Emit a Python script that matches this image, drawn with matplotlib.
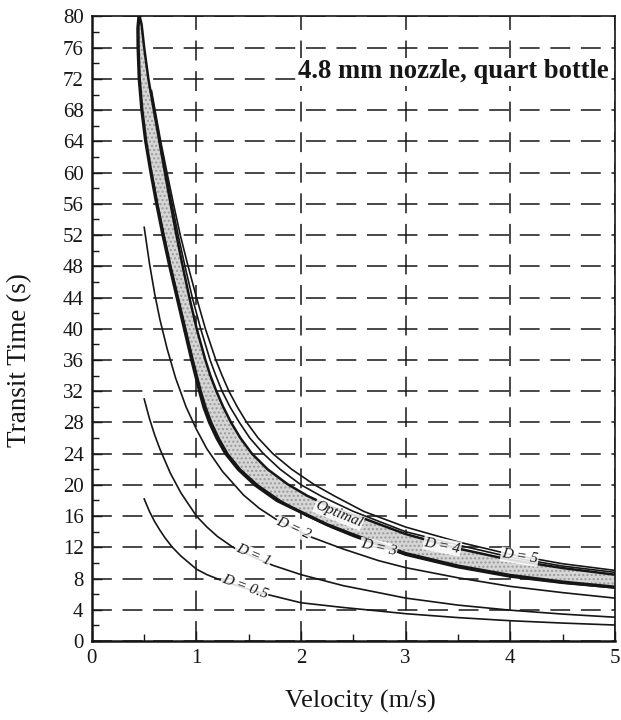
import numpy as np
import matplotlib
matplotlib.use("Agg")
import matplotlib.pyplot as plt

plt.rcParams['font.family'] = ['Liberation Serif', 'DejaVu Serif']

# velocity (m/s) / transit time (s)
d05_x = [0.5, 0.55, 0.6, 0.65, 0.7, 0.77, 0.85, 1.0, 1.1, 1.25, 1.5, 1.68, 2.0, 2.4, 2.74, 3.0, 3.5, 4.0, 4.5, 5.0]
d05_y = [18.2, 16.6, 15.3, 14.2, 13.2, 12.0, 10.9, 9.2, 8.5, 7.7, 6.6, 5.95, 4.9, 4.3, 3.85, 3.5, 3.0, 2.6, 2.3, 2.05]

d1_x = [0.5, 0.55, 0.6, 0.65, 0.75, 0.85, 1.0, 1.1, 1.2, 1.35, 1.55, 1.73, 2.0, 2.4, 2.74, 3.0, 3.5, 4.0, 4.5, 5.0]
d1_y = [31.0, 28.5, 26.4, 24.6, 21.5, 19.0, 16.0, 14.6, 13.4, 12.0, 10.7, 9.7, 8.5, 7.1, 6.2, 5.5, 4.6, 3.95, 3.45, 3.05]

d2_x = [0.5, 0.55, 0.6, 0.65, 0.72, 0.8, 0.9, 1.0, 1.1, 1.25, 1.45, 1.6, 1.76, 2.08, 2.4, 2.74, 3.0, 3.5, 4.0, 4.5, 5.0]
d2_y = [53.0, 48.4, 44.5, 41.2, 37.4, 33.7, 30.0, 27.1, 24.6, 21.7, 18.7, 17.0, 15.6, 13.4, 11.8, 10.3, 9.4, 8.1, 7.0, 6.2, 5.5]

d3_x = [0.572, 0.628, 0.69, 0.755, 0.826, 0.897, 0.968, 1.045, 1.09, 1.145, 1.215, 1.30, 1.42,
        1.585, 1.80, 2.06, 2.3, 2.5, 3.0, 3.5, 4.0, 4.5, 5.0]
d3_y = [60.0, 56.0, 52.0, 48.0, 44.0, 40.0, 36.0, 32.0, 30.0, 28.0, 26.0, 24.0, 22.0,
        20.0, 18.0, 16.0, 14.5, 13.4, 11.0, 9.4, 8.2, 7.4, 6.8]

d4_x = [0.565, 0.652, 0.708, 0.765, 0.825, 0.89, 0.96, 1.04, 1.13, 1.185, 1.245, 1.32, 1.41, 1.51,
        1.64, 1.80, 2.0, 2.2, 2.5, 3.0, 3.5, 4.0, 4.5, 5.0]
d4_y = [70.5, 64.0, 60.0, 56.0, 52.0, 48.0, 44.0, 40.0, 36.0, 34.0, 32.0, 30.0, 28.0, 26.0,
        24.0, 22.0, 20.0, 18.5, 16.6, 14.0, 12.3, 10.75, 9.6, 8.8]

d5_x = [0.57, 0.658, 0.718, 0.78, 0.845, 0.92, 1.0, 1.085, 1.185, 1.245, 1.31, 1.39, 1.48, 1.59,
        1.73, 1.91, 2.13, 2.33, 2.6, 3.0, 3.5, 4.0, 4.5, 5.0]
d5_y = [70.5, 64.0, 60.0, 56.0, 52.0, 48.0, 44.0, 40.0, 36.0, 34.0, 32.0, 30.0, 28.0, 26.0,
        24.0, 22.0, 20.0, 18.5, 16.6, 14.6, 12.7, 11.1, 9.9, 9.05]

# optimal band edges
lo_x = [0.452, 0.44, 0.442, 0.453, 0.478, 0.515, 0.565, 0.62, 0.68, 0.745, 0.815, 0.885, 0.955,
        1.03, 1.07, 1.125, 1.195, 1.28, 1.40, 1.56, 1.77, 2.0, 2.25, 2.5, 3.0, 3.5, 4.0, 4.5, 5.0]
lo_y = [80.3, 78.5, 76.0, 72.0, 68.0, 64.0, 60.0, 56.0, 52.0, 48.0, 44.0, 40.0, 36.0,
        32.0, 30.0, 28.0, 26.0, 24.0, 22.0, 20.0, 18.0, 16.5, 14.9, 13.6, 11.2, 9.6, 8.4, 7.55, 6.9]
hi_x = [0.452, 0.475, 0.50, 0.54, 0.592, 0.645, 0.698, 0.752, 0.808, 0.868, 0.932, 1.002, 1.085,
        1.133, 1.19, 1.255, 1.33, 1.42, 1.53, 1.68, 1.87, 2.06, 2.3, 2.6, 3.0, 3.5, 4.0, 4.5, 5.0]
hi_y = [80.3, 79.0, 76.0, 72.0, 68.0, 64.0, 60.0, 56.0, 52.0, 48.0, 44.0, 40.0, 36.0,
        34.0, 32.0, 30.0, 28.0, 26.0, 24.0, 22.0, 20.1, 18.6, 17.1, 15.7, 13.7, 11.85, 10.4, 9.35, 8.5]

# curve labels: text, x, y, angle
labels = [("D = 0.5", 1.46, 6.9, -20), ("D = 1", 1.54, 11.0, -23), ("D = 2", 1.93, 14.4, -24),
          ("Optimal", 2.36, 16.2, -22), ("D = 3", 2.74, 11.9, -13),
          ("D = 4", 3.35, 12.2, -11), ("D = 5", 4.09, 10.8, -9)]

ink = '#161616'

fig = plt.figure(figsize=(6.21, 7.2), dpi=100)
ax = fig.add_axes([0.148, 0.1097, 0.842, 0.8674])

ax.set_xlim(0, 5)
ax.set_ylim(0, 80)
ax.set_xticks(np.arange(0, 6, 1))
ax.set_xticks(np.arange(0, 5.01, 0.5), minor=True)
ax.set_yticks(np.arange(0, 81, 4))
ax.set_yticks(np.arange(0, 81, 2), minor=True)
ax.tick_params(which='both', direction='in', colors=ink, labelsize=15, pad=6)
ax.tick_params(which='major', length=7, width=1.0)
ax.tick_params(which='minor', length=5, width=1.0)
for s in ax.spines.values():
    s.set_color(ink)
    s.set_linewidth(1.2)
ax.spines['left'].set_linewidth(1.8)
ax.spines['bottom'].set_linewidth(1.8)

ax.grid(True, which='major', color=ink, linewidth=1.1, dashes=(13, 7), zorder=0)
ax.set_axisbelow(True)

# shaded optimal band
bx = np.concatenate([hi_x, lo_x[::-1]])
by = np.concatenate([hi_y, lo_y[::-1]])
ax.fill(bx, by, facecolor='#d6d6d6', edgecolor='#9a9a9a', hatch='....', linewidth=0, zorder=2)
ax.plot(lo_x, lo_y, color=ink, lw=2.4, zorder=3, solid_joinstyle='round')
ax.plot(hi_x, hi_y, color=ink, lw=1.8, zorder=3, solid_joinstyle='round')

for cx, cy in [(d05_x, d05_y), (d1_x, d1_y), (d2_x, d2_y), (d3_x, d3_y), (d4_x, d4_y), (d5_x, d5_y)]:
    ax.plot(cx, cy, color=ink, lw=1.2, zorder=3, solid_joinstyle='round')

for txt, tx, ty, rot in labels:
    ax.text(tx, ty, txt, rotation=rot, ha='center', va='center', fontsize=11,
            style='italic', color=ink, zorder=4,
            bbox=dict(facecolor='white', edgecolor='none', pad=0.5, alpha=0.85))

ax.text(1.97, 72.9, "4.8 mm nozzle, quart bottle", fontsize=19.2, fontweight='bold',
        ha='left', va='center', color=ink, zorder=4,
        bbox=dict(facecolor='white', edgecolor='none', pad=1))

ax.set_xlabel("Velocity (m/s)", fontsize=19, color=ink)
ax.set_ylabel("Transit Time (s)", fontsize=19.5, color=ink)
ax.xaxis.set_label_coords(0.513, -0.078)
ax.yaxis.set_label_coords(-0.115, 0.45)

fig.savefig("out.png", dpi=100)
